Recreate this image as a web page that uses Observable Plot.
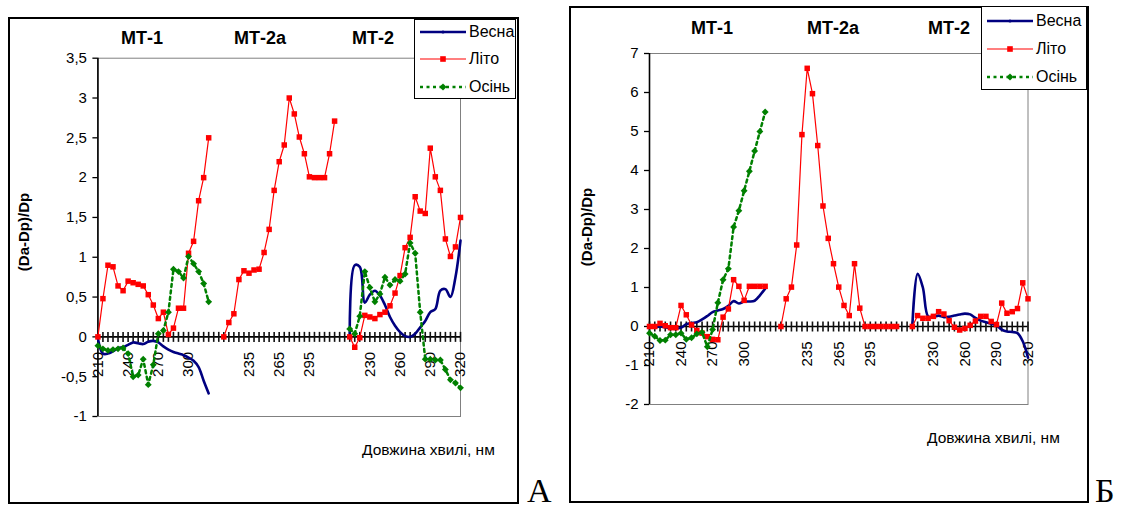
<!DOCTYPE html>
<html><head><meta charset="utf-8">
<script src="https://cdn.jsdelivr.net/npm/d3@7"></script>
<script src="https://cdn.jsdelivr.net/npm/@observablehq/plot@0.6"></script>
<style>
body{margin:0;background:#fff;font-family:"Liberation Sans",Arial,sans-serif;color:#000;}
#root{position:relative;width:1121px;height:510px;overflow:hidden;background:#fff;}
.box{position:absolute;box-sizing:border-box;}
.abs{position:absolute;white-space:nowrap;line-height:1;}
.c{transform:translate(-50%,-50%);}
.title{font-weight:bold;font-size:18px;}
.ytitle{font-weight:bold;font-size:15px;transform:translate(-50%,-50%) rotate(-90deg);}
.xtitle{font-size:15.5px;transform:translateY(-50%);}
.letter{font-family:"Liberation Serif","Times New Roman",serif;font-size:34px;}
.legend{position:absolute;box-sizing:border-box;border:1px solid #000;background:#fff;}
.litem{position:absolute;white-space:nowrap;line-height:1;font-size:16px;transform:translateY(-50%);display:flex;align-items:center;}
.litem svg{margin-right:3px;}
</style></head><body><div id="root"></div>
<script>
// ---------- data ----------
const wavelengths = [210,215,220,225,230,235,240,245,250,255,260,265,270,275,280,285,290,295,300,305,310,315,320];
const segmentNames = ["МТ-1", "МТ-2а", "МТ-2"];
const seriesNames = ["Весна", "Літо", "Осінь"];
const yTicksA = [-1,-0.5,0,0.5,1,1.5,2,2.5,3,3.5];
const yTicksB = [-2,-1,0,1,2,3,4,5,6,7];

// Panel A
const springA_MT1 = [-0.02,-0.21,-0.21,-0.18,-0.14,-0.13,-0.10,-0.07,-0.08,-0.09,-0.06,-0.05,-0.07,-0.12,-0.16,-0.19,-0.21,-0.23,-0.26,-0.30,-0.38,-0.55,-0.71];
const summerA_MT1 = [0,0.48,0.90,0.88,0.64,0.58,0.70,0.68,0.66,0.64,0.53,0.40,0.23,0.31,0.03,0.11,0.36,0.36,1.05,1.20,1.71,2.00,2.50];
const autumnA_MT1 = [-0.11,-0.15,-0.17,-0.16,-0.15,-0.14,-0.21,-0.50,-0.48,-0.28,-0.60,-0.35,0.04,0.08,0.31,0.85,0.82,0.74,1.01,0.92,0.82,0.67,0.44];
const summerA_MT2a = [0,0.18,0.29,0.72,0.83,0.80,0.84,0.85,1.06,1.35,1.84,2.20,2.41,3.00,2.80,2.51,2.30,2.01,2.00,2.00,2.00,2.30,2.71];
const springA_MT2 = [0.02,0.90,0.88,0.43,0.53,0.58,0.52,0.40,0.25,0.14,0.06,0.01,0.00,0.04,0.12,0.20,0.31,0.35,0.58,0.60,0.50,0.75,1.21];
const summerA_MT2 = [0,-0.13,-0.01,0.27,0.25,0.23,0.28,0.31,0.39,0.55,0.77,1.12,1.25,1.76,1.58,1.55,2.37,2.01,1.84,1.23,1.01,1.13,1.50];
const autumnA_MT2 = [0.10,0.04,0.26,0.82,0.62,0.44,0.54,0.75,0.65,0.72,0.70,0.79,1.18,1.05,0.31,-0.28,-0.28,-0.29,-0.29,-0.41,-0.54,-0.58,-0.64];

// Panel B
const springB_MT1 = [-0.03,-0.03,0.00,-0.02,-0.05,-0.06,-0.03,0.06,0.09,0.11,0.18,0.27,0.37,0.41,0.45,0.53,0.65,0.59,0.64,0.64,0.66,0.80,0.97];
const summerB_MT1 = [0,0,0.08,0.02,-0.03,-0.03,0.54,0.30,0.04,-0.10,-0.17,-0.26,-0.33,-0.34,0.24,0.45,1.20,1.03,0.67,1.03,1.03,1.03,1.03];
const autumnB_MT1 = [-0.17,-0.25,-0.36,-0.35,-0.21,-0.21,-0.17,-0.33,-0.29,-0.19,-0.15,-0.52,-0.08,0.61,1.20,1.48,2.55,2.97,3.48,3.98,4.50,5.00,5.50];
const summerB_MT2a = [0,0.71,1.01,2.09,4.92,6.62,5.97,4.64,3.09,2.26,1.61,1.01,0.54,0.28,1.61,0.47,0,0,0,0,0,0,0];
const springB_MT2 = [0.02,1.35,1.00,0.26,0.25,0.28,0.24,0.25,0.28,0.31,0.33,0.31,0.22,0.15,0.11,0.07,0.03,-0.08,-0.13,-0.14,-0.17,-0.38,-0.80];
const summerB_MT2 = [0,0.28,0.21,0.21,0.26,0.38,0.32,0.15,-0.02,-0.09,-0.05,0.03,0.14,0.26,0.26,0.13,0.05,0.60,0.34,0.38,0.46,1.12,0.71];

// ---------- category structure ----------
const gap = ["", ""];
const catLabels = [...wavelengths, ...gap, ...wavelengths, ...gap, ...wavelengths];
const segOffsets = [0, wavelengths.length + gap.length, 2 * (wavelengths.length + gap.length)];
const tickIdx = d3.range(catLabels.length);
const labelIdx = tickIdx.filter(i => i % 6 === 0);
const xMax = catLabels.length - 1;

const COLORS = {spring: "#000080", summer: "#ff0000", autumn: "#008000"};

function rows(vals, seg) { return vals.map((v, i) => ({x: segOffsets[seg] + i, y: v, seg})); }
const fmt = d => String(d).replace(".", ",");

function panelPlot(cfg) {
  const spring = cfg.spring.flatMap(s => rows(s.vals, s.seg));
  const summer = cfg.summer.flatMap(s => rows(s.vals, s.seg));
  const autumn = cfg.autumn.flatMap(s => rows(s.vals, s.seg));
  const plotH = cfg.height - cfg.mt - cfg.mb;
  const half = 5 * (cfg.yDomain[1] - cfg.yDomain[0]) / plotH; // half tick length, in y units
  const catTicks = tickIdx.map(i => ({i, lo: -half, hi: half}));
  return Plot.plot({
    width: cfg.width, height: cfg.height,
    marginLeft: cfg.ml, marginRight: cfg.mr, marginTop: cfg.mt, marginBottom: cfg.mb,
    x: {domain: [0, xMax], axis: null},
    y: {domain: cfg.yDomain, axis: null},
    style: {fontFamily: "'Liberation Sans', Arial, sans-serif", fontSize: "15px", background: "transparent", overflow: "visible", color: "#000"},
    marks: [
      Plot.frame({stroke: "#808080", strokeWidth: 1}),
      Plot.axisY({ticks: cfg.yTicks, tickFormat: fmt, tickSize: 5, tickPadding: 6, fontSize: 15, label: null, anchor: "left", strokeWidth: 1.3}),
      Plot.ruleX([0], {stroke: "#000", strokeWidth: 1.6}),
      Plot.ruleY([0], {stroke: "#000", strokeWidth: 1.6}),
      Plot.link(catTicks, {x1: "i", x2: "i", y1: "lo", y2: "hi", stroke: "#111", strokeWidth: 1.6}),
      Plot.text(labelIdx, {x: d => d, y: () => 0, text: d => String(catLabels[d]), rotate: -90, textAnchor: "end", lineAnchor: "middle", dy: 15, fontSize: 15, fill: "#000"}),
      Plot.line(spring, {x: "x", y: "y", z: "seg", stroke: COLORS.spring, strokeWidth: 2.6, curve: "catmull-rom"}),
      Plot.line(summer, {x: "x", y: "y", z: "seg", stroke: COLORS.summer, strokeWidth: 1.2}),
      Plot.dot(summer, {x: "x", y: "y", symbol: "square", r: 3.1, fill: COLORS.summer}),
      Plot.line(autumn, {x: "x", y: "y", z: "seg", stroke: COLORS.autumn, strokeWidth: 2.5, strokeDasharray: "3,3.5"}),
      Plot.dot(autumn, {x: "x", y: "y", symbol: "diamond2", r: 3.1, fill: COLORS.autumn})
    ]
  });
}

const root = document.getElementById("root");
function el(cls, style, html) { const d = document.createElement("div"); d.className = cls; Object.assign(d.style, style); if (html != null) d.innerHTML = html; root.appendChild(d); return d; }

function swatch(kind) {
  const w = 46, h = 12, y = 6;
  if (kind === 0) return `<svg width="${w}" height="${h}"><line x1="0" x2="${w}" y1="${y}" y2="${y}" stroke="${COLORS.spring}" stroke-width="2.6"/><circle cx="${w/2}" cy="${y}" r="1.6" fill="${COLORS.spring}"/></svg>`;
  if (kind === 1) return `<svg width="${w}" height="${h}"><line x1="0" x2="${w}" y1="${y}" y2="${y}" stroke="${COLORS.summer}" stroke-width="1.2"/><rect x="${w/2-2.8}" y="${y-2.8}" width="5.6" height="5.6" fill="${COLORS.summer}"/></svg>`;
  return `<svg width="${w}" height="${h}"><line x1="0" x2="${w}" y1="${y}" y2="${y}" stroke="${COLORS.autumn}" stroke-width="2.5" stroke-dasharray="3,3.5"/><path d="M${w/2},${y-3.6}L${w/2+3.6},${y}L${w/2},${y+3.6}L${w/2-3.6},${y}Z" fill="${COLORS.autumn}"/></svg>`;
}

function buildPanel(p) {
  el("box", {left: p.left + "px", top: p.top + "px", width: p.width + "px", height: p.height + "px", border: "2px solid #000"});
  const holder = el("box", {left: p.left + "px", top: p.top + "px", width: p.width + "px", height: p.height + "px"});
  holder.appendChild(panelPlot(p));
  p.titleX.forEach((x, i) => el("abs c title", {left: x + "px", top: p.titleY + "px"}, segmentNames[i]));
  el("abs ytitle", {left: p.yTitle[0] + "px", top: p.yTitle[1] + "px"}, "(Da-Dp)/Dp");
  el("abs xtitle", {left: p.xTitle[0] + "px", top: p.xTitle[1] + "px"}, "Довжина хвилі, нм");
  el("legend", {left: p.legend[0] + "px", top: p.legend[1] + "px", width: p.legend[2] + "px", height: p.legend[3] + "px"});
  seriesNames.forEach((n, i) => el("litem", {left: p.legendItemX + "px", top: p.legendItemY[i] + "px"}, swatch(i) + `<span>${n}</span>`));
  el("abs letter", {left: p.letter[0] + "px", top: p.letter[1] + "px"}, p.letterText);
}

buildPanel({
  left: 8, top: 17, width: 511, height: 487,
  ml: 89.4, mr: 59, mt: 40.7, mb: 88,
  yDomain: [-1, 3.5], yTicks: yTicksA,
  spring: [{seg: 0, vals: springA_MT1}, {seg: 2, vals: springA_MT2}],
  summer: [{seg: 0, vals: summerA_MT1}, {seg: 1, vals: summerA_MT2a}, {seg: 2, vals: summerA_MT2}],
  autumn: [{seg: 0, vals: autumnA_MT1}, {seg: 2, vals: autumnA_MT2}],
  titleX: [142, 260, 373], titleY: 38,
  yTitle: [23, 232], xTitle: [362, 450],
  legend: [414, 19, 102, 80], legendItemX: 420, legendItemY: [32, 59, 87],
  letter: [527, 474], letterText: "А"
});

buildPanel({
  left: 569, top: 6, width: 520, height: 497,
  ml: 80, mr: 61.5, mt: 47, mb: 99,
  yDomain: [-2, 7], yTicks: yTicksB,
  spring: [{seg: 0, vals: springB_MT1}, {seg: 2, vals: springB_MT2}],
  summer: [{seg: 0, vals: summerB_MT1}, {seg: 1, vals: summerB_MT2a}, {seg: 2, vals: summerB_MT2}],
  autumn: [{seg: 0, vals: autumnB_MT1}],
  titleX: [712, 833, 949], titleY: 28,
  yTitle: [586, 227], xTitle: [927, 438],
  legend: [981, 6, 106, 84], legendItemX: 987, legendItemY: [21, 49, 77],
  letter: [1095, 474], letterText: "Б"
});
</script></body></html>
